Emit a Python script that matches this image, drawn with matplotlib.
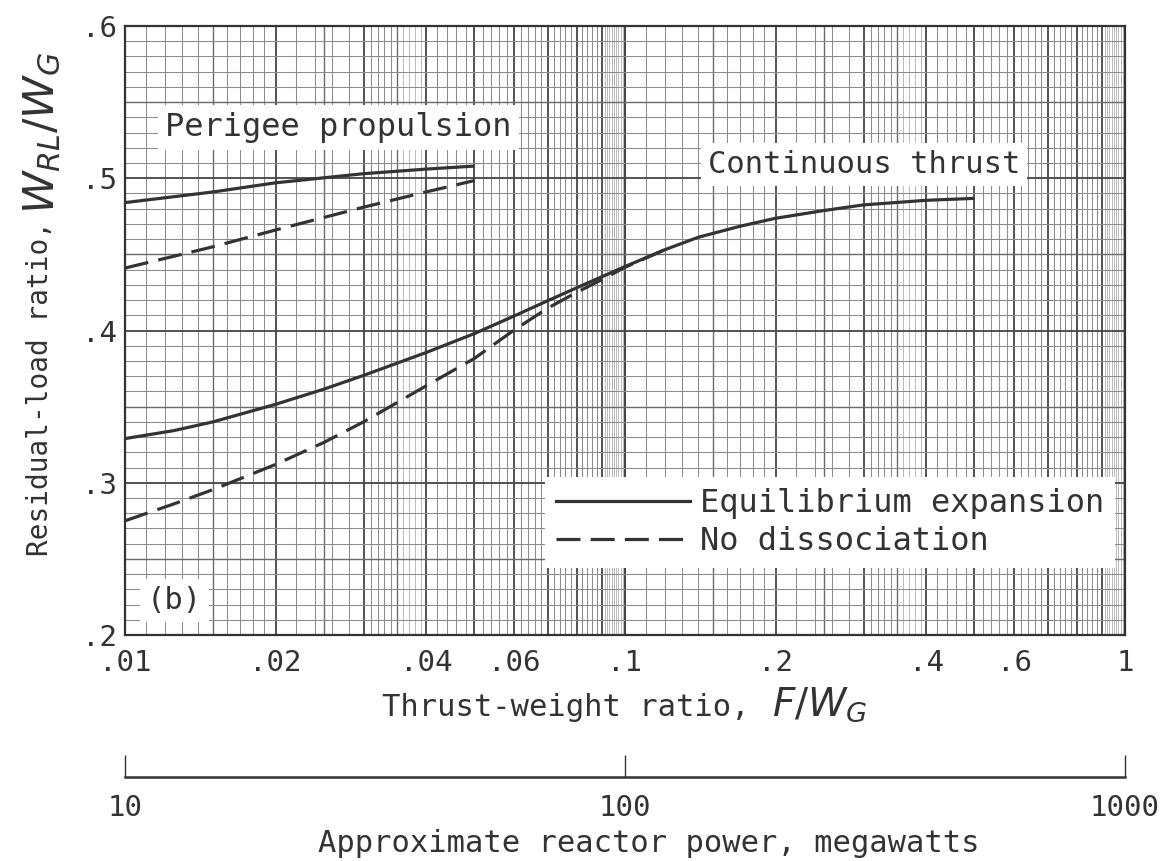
import numpy as np
import matplotlib
matplotlib.use("Agg")
import matplotlib.pyplot as plt
from matplotlib.lines import Line2D

plt.rcParams['font.family'] = ['DejaVu Sans Mono', 'DejaVu Sans']
plt.rcParams['mathtext.fontset'] = 'dejavusans'

# Perigee propulsion curves (thrust-weight ratio vs residual-load ratio)
perigee_x = [0.01, 0.015, 0.02, 0.03, 0.04, 0.05]
perigee_equilibrium = [0.484, 0.491, 0.497, 0.503, 0.506, 0.508]
perigee_no_dissoc = [0.441, 0.455, 0.466, 0.481, 0.491, 0.4985]

# Continuous thrust curves
cont_x = [0.01, 0.0125, 0.015, 0.02, 0.025, 0.03, 0.04, 0.05, 0.06, 0.07,
          0.08, 0.1, 0.12, 0.14, 0.17, 0.2, 0.25, 0.3, 0.4, 0.5]
cont_equilibrium = [0.329, 0.3342, 0.3400, 0.3515, 0.3615, 0.3705, 0.3855,
                    0.398, 0.4095, 0.4195, 0.428, 0.442, 0.453, 0.4612,
                    0.4685, 0.4737, 0.4788, 0.4825, 0.4855, 0.4868]
cont_nd_x = [0.01, 0.0125, 0.015, 0.02, 0.025, 0.03, 0.04, 0.05, 0.06, 0.07,
             0.08, 0.09, 0.1, 0.12]
cont_no_dissoc = [0.275, 0.286, 0.2955, 0.312, 0.3265, 0.3400, 0.3636,
                  0.3817, 0.4003, 0.4146, 0.425, 0.4335, 0.4415, 0.453]

x_ticks = [0.01, 0.02, 0.04, 0.06, 0.1, 0.2, 0.4, 0.6, 1.0]
x_tick_labels = ['.01', '.02', '.04', '.06', '.1', '.2', '.4', '.6', '1']
y_ticks = [0.2, 0.3, 0.4, 0.5, 0.6]
y_tick_labels = ['.2', '.3', '.4', '.5', '.6']

power_ticks = [10, 100, 1000]
power_tick_labels = ['10', '100', '1000']

ink = '#333333'
fs = 22

fig = plt.figure(figsize=(11.76, 8.61), dpi=100)
H = 861.0
L, W = 125 / 1176, 1000 / 1176
ax = fig.add_axes([L, (H - 635) / H, W, 609 / H])
ax.set_xscale('log')
ax.set_xlim(0.01, 1.0)
ax.set_ylim(0.2, 0.6)

# --- logarithmic graph-paper grid ---
def paper_lines():
    faint, light, medium, heavy = [], [], [], []
    for dec in (0.01, 0.1):
        for m in range(1, 11):
            heavy.append(m * dec)
        for s in np.arange(1.1, 2.0, 0.1):
            s = round(s, 2)
            (medium if s == 1.5 else light).append(s * dec)
        for s in (2.2, 2.4, 2.6, 2.8):
            light.append(s * dec)
        medium.append(2.5 * dec)
        for s in np.arange(3.1, 4.0, 0.1):
            s = round(s, 2)
            if s == 3.5:
                medium.append(s * dec)
            elif s > 3.5:
                faint.append(s * dec)
            else:
                light.append(s * dec)
        for base in (4, 5, 6, 7, 8):
            for f in (0.2, 0.4, 0.6, 0.8):
                light.append((base + f) * dec)
        for s in np.arange(9.1, 10.0, 0.1):
            faint.append(round(s, 2) * dec)
    return faint, light, medium, heavy

vf, vl, vm, vh = paper_lines()
ax.vlines(vf, 0.2, 0.6, colors='#b0b0b0', linewidth=0.6, zorder=1)
ax.vlines(vl, 0.2, 0.6, colors='#8c8c8c', linewidth=0.75, zorder=1)
ax.vlines(vm, 0.2, 0.6, colors='#6a6a6a', linewidth=1.0, zorder=1)
ax.vlines(vh, 0.2, 0.6, colors='#454545', linewidth=1.3, zorder=1)

hy = np.round(np.arange(0.20, 0.6001, 0.01), 2)
h_heavy = [v for v in hy if abs(v * 10 - round(v * 10)) < 1e-6]
h_med = [v for v in hy if v not in h_heavy and abs(v * 20 - round(v * 20)) < 1e-6]
h_light = [v for v in hy if v not in h_heavy and v not in h_med]
ax.hlines(h_light, 0.01, 1.0, colors='#8c8c8c', linewidth=0.75, zorder=1)
ax.hlines(h_med, 0.01, 1.0, colors='#6a6a6a', linewidth=1.0, zorder=1)
ax.hlines(h_heavy, 0.01, 1.0, colors='#454545', linewidth=1.3, zorder=1)

# --- curves ---
lw = 2.3
dash = (7.5, 3.2)
ax.plot(perigee_x, perigee_equilibrium, color=ink, lw=lw, zorder=4,
        solid_capstyle='butt', solid_joinstyle='round')
ax.plot(perigee_x, perigee_no_dissoc, color=ink, lw=lw, dashes=dash, zorder=4)
ax.plot(cont_x, cont_equilibrium, color=ink, lw=lw, zorder=4,
        solid_capstyle='butt', solid_joinstyle='round')
ax.plot(cont_nd_x, cont_no_dissoc, color=ink, lw=lw, dashes=dash, zorder=4)

# --- annotations ---
box = dict(facecolor='white', edgecolor='none', pad=5)
ax.text(0.04, 0.833, 'Perigee propulsion', transform=ax.transAxes,
        fontsize=23, color=ink, va='center', ha='left', bbox=box, zorder=3)
ax.text(0.583, 0.772, 'Continuous thrust', transform=ax.transAxes,
        fontsize=22, color=ink, va='center', ha='left', bbox=box, zorder=3)
ax.text(0.022, 0.057, '(b)', transform=ax.transAxes,
        fontsize=fs, color=ink, va='center', ha='left', bbox=box, zorder=3)

handles = [Line2D([], [], color=ink, lw=lw),
           Line2D([], [], color=ink, lw=lw, dashes=dash)]
leg = ax.legend(handles, ['Equilibrium expansion', 'No dissociation'],
                loc='lower right', bbox_to_anchor=(0.99, 0.11),
                fontsize=23, frameon=True, fancybox=False, framealpha=1,
                facecolor='white', edgecolor='none', handlelength=4.2,
                handletextpad=0.3, labelspacing=0.2, borderpad=0.35,
                borderaxespad=0.0)
leg.set_zorder(3)
for t in leg.get_texts():
    t.set_color(ink)

# --- axes styling ---
for sp in ax.spines.values():
    sp.set_linewidth(1.6)
    sp.set_color(ink)
    sp.set_zorder(5)
ax.set_xticks(x_ticks)
ax.set_xticklabels(x_tick_labels)
ax.xaxis.set_minor_locator(matplotlib.ticker.NullLocator())
ax.set_yticks(y_ticks)
ax.set_yticklabels(y_tick_labels)
ax.tick_params(axis='both', length=0, labelsize=21, colors=ink)
ax.tick_params(axis='x', pad=10)
ax.tick_params(axis='y', pad=6)

# axis titles: plain words plus a larger symbolic part
fig.text(382 / 1176, (H - 716) / H, 'Thrust-weight ratio,', fontsize=fs,
         color=ink, ha='left', va='baseline')
fig.text(772 / 1176, (H - 716) / H, r'$F/W_G$', fontsize=28,
         color=ink, ha='left', va='baseline')
fig.text(40 / 1176, (H - 556) / H, 'Residual-load ratio,', fontsize=20,
         color=ink, ha='center', va='bottom', rotation=90)
fig.text(42 / 1176, (H - 214) / H, r'$W_{RL}/W_G$', fontsize=31,
         color=ink, ha='center', va='bottom', rotation=90)

# --- reactor power scale ---
ax2 = fig.add_axes([L, (H - 777) / H, W, 0.0005])
ax2.set_xscale('log')
ax2.set_xlim(10, 1000)
ax2.set_xticks(power_ticks)
ax2.set_xticklabels(power_tick_labels)
ax2.xaxis.set_minor_locator(matplotlib.ticker.NullLocator())
ax2.set_yticks([])
for s in ('top', 'left', 'right'):
    ax2.spines[s].set_visible(False)
ax2.spines['bottom'].set_linewidth(1.8)
ax2.spines['bottom'].set_color(ink)
ax2.patch.set_visible(False)
ax2.tick_params(axis='x', direction='in', length=16, width=1.0, colors=ink,
                labelsize=21, pad=12)
fig.text(649 / 1176, (H - 843) / H, 'Approximate reactor power, megawatts',
         fontsize=fs, color=ink, ha='center', va='center')

fig.savefig('out.png', dpi=100, facecolor='white')
